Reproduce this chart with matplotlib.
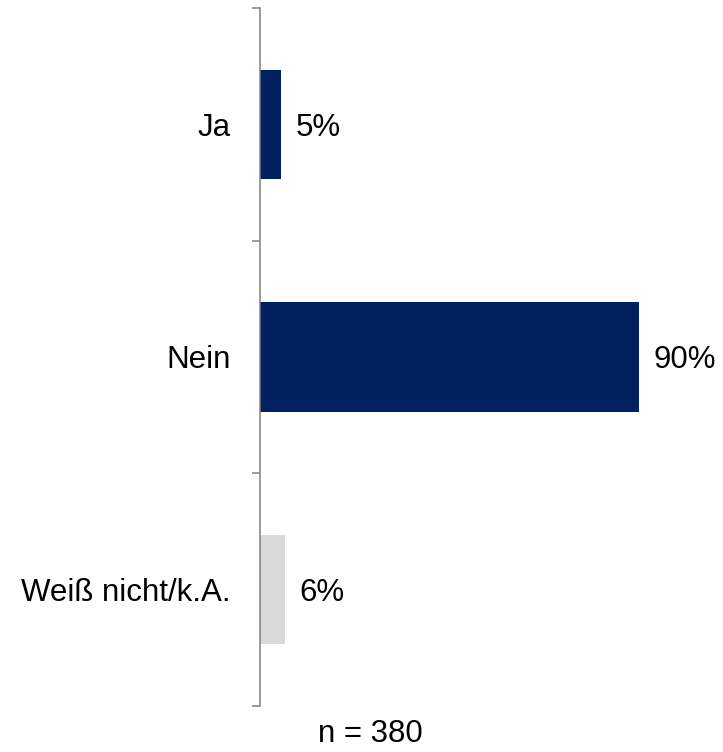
import matplotlib.pyplot as plt
import numpy as np

plt.rcParams['font.family'] = ['Liberation Sans', 'DejaVu Sans']

categories = ['Ja', 'Nein', 'Weiß nicht/k.A.']
values = [5, 90, 6]
colors = ['#002060', '#002060', '#D9D9D9']
sample_note = 'n = 380'

fig = plt.figure(figsize=(7.23, 7.52), dpi=100)
ax = fig.add_axes((260 / 723, 46 / 752, 421 / 723, 698 / 752))

y = np.arange(len(categories))
ax.barh(y, values, height=0.47, color=colors)
ax.set_xlim(0, 100)
ax.set_ylim(len(categories) - 0.5, -0.5)

# value labels right of each bar
for yi, v in zip(y, values):
    ax.text(v + 3.4, yi, f'{v}%', va='center_baseline', ha='left', fontsize=22.5, color='black')

# category labels on major ticks, short tick marks between the bands
ax.set_yticks(y)
ax.set_yticklabels(categories, fontsize=22.5)
ax.tick_params(axis='y', which='major', length=0, pad=21)
ax.set_yticks(np.arange(-0.5, len(categories)), minor=True)
ax.tick_params(axis='y', which='minor', length=6, width=1.1, color='#808080')

ax.set_xticks([])
for side in ['top', 'right', 'bottom']:
    ax.spines[side].set_visible(False)
ax.spines['left'].set_color('#808080')
ax.spines['left'].set_linewidth(1.1)

fig.text(370 / 723, 3 / 752, sample_note, ha='center', va='bottom', fontsize=22.5)

fig.savefig('out.png', dpi=100)
